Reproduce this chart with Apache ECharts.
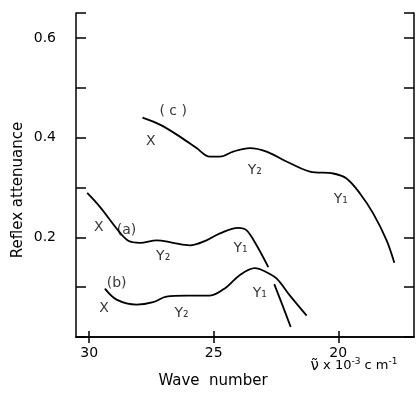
<!DOCTYPE html>
<html>
<head>
<meta charset="utf-8">
<script src="https://cdn.jsdelivr.net/npm/echarts@6/dist/echarts.min.js"></script>
<style>
  html, body { margin: 0; padding: 0; background: #fff; }
  #chart { width: 417px; height: 404px; }
</style>
</head>
<body>
<div id="chart"></div>
<script>
// wave number (x 10^-3 cm^-1) vs reflex attenuance
const curveA = [[30.08,0.289],[29.57,0.261],[28.84,0.214],[28.43,0.193],[27.96,0.189],[27.29,0.194],
  [26.63,0.189],[25.96,0.184],[25.29,0.194],[24.75,0.208],[24.02,0.219],[23.68,0.214],[23.28,0.184],[22.81,0.140]];
const curveB = [[29.37,0.097],[28.90,0.075],[28.10,0.065],[27.43,0.070],[26.90,0.081],[26.10,0.083],
  [25.16,0.083],[24.49,0.100],[23.96,0.124],[23.35,0.138],[22.88,0.130],[22.47,0.117],[21.94,0.083],[21.27,0.043]];
const curveB2 = [[22.57,0.106],[22.25,0.065],[21.91,0.020]];
const curveC = [[27.86,0.440],[27.16,0.426],[26.36,0.402],[25.69,0.379],[25.16,0.362],[24.75,0.362],
  [24.22,0.372],[23.55,0.379],[22.88,0.372],[22.08,0.352],[21.14,0.332],[20.20,0.328],[19.67,0.318],
  [19.13,0.288],[18.60,0.248],[18.06,0.194],[17.75,0.149]];
const notes = [[26.63,0.452,'( c )'],[27.53,0.392,'X'],[23.35,0.335,'Y₂'],[19.90,0.277,'Y₁'],
  [29.61,0.219,'X'],[28.50,0.214,'(a)'],[27.03,0.161,'Y₂'],[23.92,0.177,'Y₁'],
  [28.90,0.107,'(b)'],[29.40,0.057,'X'],[26.29,0.047,'Y₂'],[23.15,0.087,'Y₁']];
const xTicks = [20, 25, 30];
const yLabels = ['0.2', '0.4', '0.6'];

const font = 'DejaVu Sans';
const chart = echarts.init(document.getElementById('chart'));

const line = (data) => ({
  type: 'line', data: data, smooth: 0.35, showSymbol: false, silent: true,
  lineStyle: { color: '#000', width: 1.8 }
});

const xAx = (pos, showLabel) => ({
  type: 'value', position: pos, inverse: true, min: 16.96, max: 30.53,
  splitLine: { show: false },
  axisLine: { lineStyle: { color: '#000', width: 1.5 } },
  axisTick: { inside: true, length: 6, customValues: xTicks, lineStyle: { color: '#000', width: 1.5 } },
  axisLabel: { show: showLabel, customValues: xTicks, margin: 9, color: '#000', fontSize: 14, fontFamily: font }
});

const yAx = (pos, showLabel) => ({
  type: 'value', position: pos, min: 0, max: 0.65, interval: 0.1,
  splitLine: { show: false },
  axisLine: { lineStyle: { color: '#000', width: 1.5 } },
  axisTick: { inside: true, length: 10, lineStyle: { color: '#000', width: 1.5 } },
  axisLabel: {
    show: showLabel, margin: 20, color: '#000', fontSize: 14, fontFamily: font,
    formatter: v => { const s = v.toFixed(1); return yLabels.includes(s) && Math.abs(v - Number(s)) < 1e-6 ? s : ''; }
  }
});

chart.setOption({
  animation: false,
  grid: { left: 76, right: 3, top: 13, bottom: 67 },
  xAxis: [xAx('bottom', true), xAx('top', false)],
  yAxis: [yAx('left', true), yAx('right', false)],
  series: [
    line(curveA), line(curveB), line(curveB2), line(curveC),
    {
      type: 'scatter', symbolSize: 0, silent: true,
      data: notes,
      label: {
        show: true, position: 'inside', color: '#000', fontSize: 14, fontFamily: font,
        formatter: p => p.value[2]
      }
    }
  ],
  graphic: [
    { type: 'text', x: 18, y: 190, rotation: Math.PI / 2,
      style: { text: 'Reflex attenuance', fontSize: 15, fontFamily: font, fill: '#000', align: 'center', verticalAlign: 'middle' } },
    { type: 'text', x: 213, y: 381,
      style: { text: 'Wave  number', fontSize: 15, fontFamily: font, fill: '#000', align: 'center', verticalAlign: 'middle' } },
    { type: 'text', x: 354, y: 366,
      style: {
        text: '{v|ν̃} x 10{s|-3} c m{s|-1}', fontSize: 13, fontFamily: font, fill: '#000', align: 'center', verticalAlign: 'middle',
        rich: { v: { fontSize: 15, fontFamily: font }, s: { fontSize: 9, fontFamily: font, padding: [0, 0, 8, 0] } }
      } }
  ]
});
</script>
</body>
</html>
